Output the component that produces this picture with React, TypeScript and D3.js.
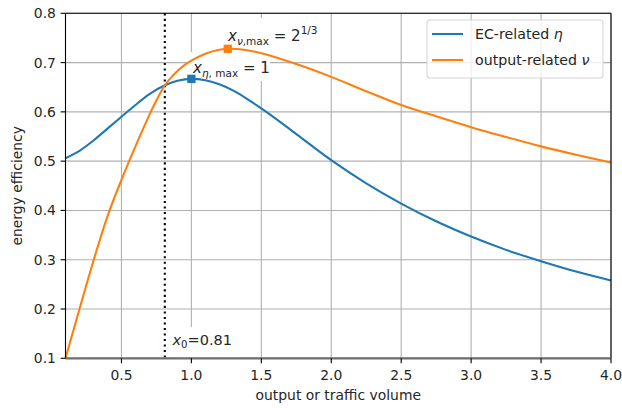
import * as d3 from 'd3'

// values
const xTicks = [0.5, 1.0, 1.5, 2.0, 2.5, 3.0, 3.5, 4.0]
const yTicks = [0.1, 0.2, 0.3, 0.4, 0.5, 0.6, 0.7, 0.8]

const etaX = [0.1, 0.2, 0.3, 0.4, 0.5, 0.6, 0.7, 0.81, 0.9, 1.0, 1.1, 1.2, 1.3, 1.4, 1.5, 1.75, 2.0, 2.25, 2.5, 2.75, 3.0, 3.25, 3.5, 3.75, 4.0]
const etaY = [0.506, 0.521, 0.542, 0.566, 0.590, 0.614, 0.636, 0.654, 0.663, 0.667, 0.664, 0.656, 0.643, 0.626, 0.607, 0.555, 0.502, 0.455, 0.414, 0.378, 0.347, 0.320, 0.297, 0.276, 0.258]

const nuX = [0.1, 0.2, 0.3, 0.4, 0.5, 0.6, 0.7, 0.75, 0.81, 0.85, 0.9, 0.95, 1.0, 1.1, 1.2, 1.26, 1.4, 1.5, 1.75, 2.0, 2.25, 2.5, 2.75, 3.0, 3.25, 3.5, 3.75, 4.0]
const nuY = [0.100, 0.200, 0.298, 0.388, 0.462, 0.530, 0.594, 0.623, 0.654, 0.668, 0.683, 0.695, 0.704, 0.718, 0.726, 0.728, 0.725, 0.719, 0.697, 0.671, 0.642, 0.614, 0.591, 0.569, 0.549, 0.530, 0.513, 0.497]

const etaMax = { x: 1.0, y: 0.667 }
const nuMax = { x: 1.26, y: 0.728 }
const x0 = 0.81

const BLUE = '#1f77b4'
const ORANGE = '#ff7f0e'
const FONT = 'DejaVu Sans, sans-serif'

export default function App() {
  const W = 622
  const H = 408
  const left = 65.5
  const right = 611
  const top = 13.3
  const bottom = 358.3

  const x = d3.scaleLinear().domain([0.1, 4.0]).range([left, right])
  const y = d3.scaleLinear().domain([0.1, 0.8]).range([bottom, top])

  const line = d3.line<[number, number]>().x((d) => x(d[0])).y((d) => y(d[1])).curve(d3.curveMonotoneX)
  const etaPath = line(etaX.map((v, i) => [v, etaY[i]]) as [number, number][]) || ''
  const nuPath = line(nuX.map((v, i) => [v, nuY[i]]) as [number, number][]) || ''

  const ms = 8.3

  return (
    <svg width={W} height={H} style={{ position: 'fixed', left: 0, top: 0, background: '#fff' }} fontFamily={FONT}>
      <rect x={0} y={0} width={W} height={H} fill="#fff" />

      {/* grid */}
      {xTicks.map((t) => (
        <line key={'gx' + t} x1={x(t)} x2={x(t)} y1={top} y2={bottom} stroke="#b0b0b0" strokeWidth={1.1} />
      ))}
      {yTicks.map((t) => (
        <line key={'gy' + t} x1={left} x2={right} y1={y(t)} y2={y(t)} stroke="#b0b0b0" strokeWidth={1.1} />
      ))}

      {/* label boxes hide the grid */}
      <rect x={223} y={18} width={100} height={34} fill="#fff" />
      <rect x={188} y={52} width={82} height={29} fill="#fff" />
      <rect x={168} y={327} width={68} height={30} fill="#fff" />

      {/* x0 line */}
      <line x1={x(x0)} x2={x(x0)} y1={top} y2={bottom} stroke="#000" strokeWidth={2.08} strokeDasharray="2.08 3.44" />

      <path d={etaPath} fill="none" stroke={BLUE} strokeWidth={2.08} />
      <path d={nuPath} fill="none" stroke={ORANGE} strokeWidth={2.08} />

      <rect x={x(etaMax.x) - ms / 2} y={y(etaMax.y) - ms / 2} width={ms} height={ms} fill={BLUE} />
      <rect x={x(nuMax.x) - ms / 2} y={y(nuMax.y) - ms / 2} width={ms} height={ms} fill={ORANGE} />

      {/* spines */}
      <line x1={left} x2={left} y1={top} y2={bottom} stroke="#000" strokeWidth={1.1} />
      <line x1={right} x2={right} y1={top} y2={bottom} stroke="#000" strokeWidth={1.1} />
      <line x1={left} x2={right} y1={top} y2={top} stroke="#000" strokeWidth={1.1} />
      <line x1={left} x2={right} y1={bottom} y2={bottom} stroke="#6e6e6e" strokeWidth={2.2} />

      {/* ticks */}
      {xTicks.map((t) => (
        <g key={'tx' + t}>
          <line x1={x(t)} x2={x(t)} y1={bottom} y2={bottom + 4.9} stroke="#000" strokeWidth={1.1} />
          <text x={x(t)} y={380} fontSize={13.9} textAnchor="middle" fill="#262626">{t.toFixed(1)}</text>
        </g>
      ))}
      {yTicks.map((t) => (
        <g key={'ty' + t}>
          <line x1={left - 4.9} x2={left} y1={y(t)} y2={y(t)} stroke="#000" strokeWidth={1.1} />
          <text x={left - 9.6} y={y(t) + 5} fontSize={13.9} textAnchor="end" fill="#262626">{t.toFixed(1)}</text>
        </g>
      ))}

      <text x={(left + right) / 2} y={400} fontSize={13.9} textAnchor="middle" fill="#262626">output or traffic volume</text>
      <text transform={`translate(22,${(top + bottom) / 2}) rotate(-90)`} fontSize={13.9} textAnchor="middle" fill="#262626">energy efficiency</text>

      {/* annotations */}
      <text x={228} y={41} fontSize={15} fill="#262626">
        <tspan fontStyle="italic">x</tspan>
        <tspan fontSize={10.5} dy={3.5}><tspan fontStyle="italic">ν</tspan>,max</tspan>
        <tspan dy={-3.5}> = 2</tspan>
        <tspan fontSize={10.5} dy={-7}>1/3</tspan>
      </text>
      <text x={193} y={73} fontSize={15} fill="#262626">
        <tspan fontStyle="italic">x</tspan>
        <tspan fontSize={10.5} dy={3.5}><tspan fontStyle="italic">η</tspan>, max</tspan>
        <tspan dy={-3.5}> = 1</tspan>
      </text>
      <text x={172.5} y={345} fontSize={14.5} fill="#262626">
        <tspan fontStyle="italic">x</tspan>
        <tspan fontSize={10.2} dy={3}>0</tspan>
        <tspan dy={-3}>=0.81</tspan>
      </text>

      {/* legend */}
      <rect x={427} y={20} width={176} height={58} rx={3} fill="#fff" fillOpacity={0.8} stroke="#d5d5d5" strokeWidth={1.1} />
      <line x1={432} x2={463} y1={34} y2={34} stroke={BLUE} strokeWidth={2.08} />
      <line x1={432} x2={463} y1={60} y2={60} stroke={ORANGE} strokeWidth={2.08} />
      <text x={475} y={39} fontSize={14.2} fill="#262626">EC-related <tspan fontStyle="italic">η</tspan></text>
      <text x={475} y={65} fontSize={14.2} fill="#262626">output-related <tspan fontStyle="italic">ν</tspan></text>
    </svg>
  )
}
